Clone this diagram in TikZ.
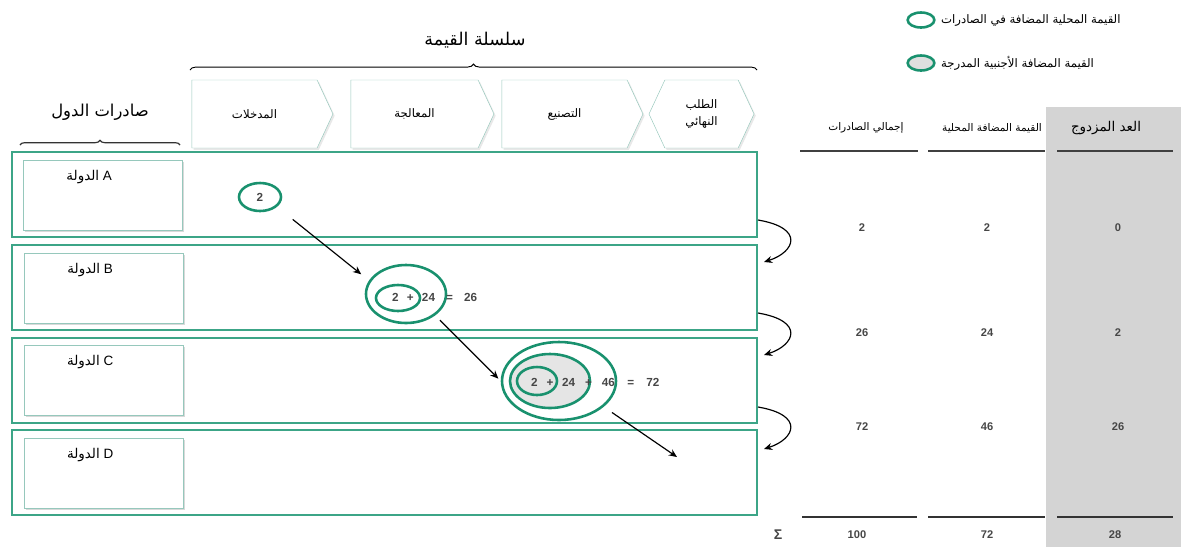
\documentclass[tikz,border=0pt]{standalone}
\usepackage{fontspec}
\setmainfont{Liberation Sans}
\newfontfamily\arabicfont[Script=Arabic]{DejaVu Sans}
\TeXXeTstate=1
\usepackage{tikz}
\usetikzlibrary{shapes.symbols,shapes.geometric,shadows,arrows.meta,decorations.pathreplacing,positioning}
\definecolor{vateal}{RGB}{25,145,110}
\definecolor{bandteal}{RGB}{60,165,135}
\definecolor{stageedge}{RGB}{150,200,188}
\definecolor{colgray}{RGB}{212,212,212}
\definecolor{numgray}{RGB}{70,70,70}
\newcommand{\arab}[1]{{\arabicfont\beginR #1\endR}}
\tikzset{
  stage/.style={signal, signal to=east, signal pointer angle=130, draw=stageedge, fill=white,
    minimum height=2.04cm, inner sep=0pt, font=\fontsize{10}{11}\selectfont,
    drop shadow={shadow xshift=1.5pt, shadow yshift=-1.5pt, opacity=.18}},
  band/.style={draw=bandteal, line width=1.3pt, minimum width=22.35cm, minimum height=2.55cm, inner sep=0pt},
  cbox/.style={draw=stageedge, fill=white, minimum width=4.77cm, minimum height=2.1cm,
    drop shadow={shadow xshift=2pt, shadow yshift=-2pt, opacity=.3}},
  cname/.style={font=\fontsize{11.5}{12}\selectfont, inner sep=0pt},
  vring/.style={ellipse, draw=vateal, line width=2.2pt, inner sep=0pt},
  vsum/.style={font=\fontsize{10}{11}\selectfont\bfseries, text=numgray, inner sep=0pt},
  num/.style={font=\fontsize{9.5}{11}\selectfont\bfseries, text=numgray},
  colhead/.style={font=\fontsize{9}{10}\selectfont},
  flow/.style={-{Stealth[length=7pt,width=6pt]}, line width=1pt},
  rule/.style={line width=1.4pt, draw=black!75},
}
\begin{document}
\begin{tikzpicture}[x=0.03cm,y=-0.03cm]
\useasboundingbox (0,0) rectangle (1181,547);

% table column shading
\fill[colgray] (1046,107) rectangle (1181,547);

% legend
\node[vring, minimum width=0.8cm, minimum height=0.45cm] (keyDom) at (921,20) {};
\node[anchor=west, font=\fontsize{10}{11}\selectfont] (keyDomText) at (937,20) {\arab{القيمة المحلية المضافة في الصادرات}};
\node[vring, fill=gray!25, minimum width=0.8cm, minimum height=0.45cm] (keyFor) at (921,63) {};
\node[anchor=west, font=\fontsize{10}{11}\selectfont] (keyForText) at (937,63) {\arab{القيمة المضافة الأجنبية المدرجة}};

% value chain header
\node[font=\fontsize{15}{16}\selectfont] (chain) at (475,40) {\arab{سلسلة القيمة}};
\draw[thick, decorate, decoration={brace, amplitude=5pt}] (190,70) -- (757,70);

\node[stage, minimum width=4.23cm] (inputs) at (254.5,114) {\arab{المدخلات}};
\node[stage, minimum width=4.29cm] (process) at (414.5,114) {\arab{المعالجة}};
\node[stage, minimum width=4.23cm] (manuf) at (564.5,114) {\arab{التصنيع}};
\node[stage, signal to=east and west, minimum width=3.15cm, align=center] (final) at (701.5,114) {\arab{الطلب}\\[3pt]\arab{النهائي}};

% country exports header
\node[font=\fontsize{14}{15}\selectfont] (exports) at (100,112) {\arab{صادرات الدول}};
\draw[line width=1pt, black!80, decorate, decoration={brace, amplitude=4pt}] (20,145) -- (180,145);

% country bands
\node[band] (bandA) at (384.5,194.5) {};
\node[band] (bandB) at (384.5,287.5) {};
\node[band] (bandC) at (384.5,380.5) {};
\node[band] (bandD) at (384.5,472.5) {};

\node[cbox] (boxA) at (102.5,195) {};
\node[cbox] (boxB) at (103.5,288) {};
\node[cbox] (boxC) at (103.5,380) {};
\node[cbox] (boxD) at (103.5,473) {};
\node[cname, below=9pt of boxA.north, xshift=-0.4cm] (nameA) {\arab{الدولة}~A};
\node[cname, below=9pt of boxB.north, xshift=-0.4cm] (nameB) {\arab{الدولة}~B};
\node[cname, below=9pt of boxC.north, xshift=-0.4cm] (nameC) {\arab{الدولة}~C};
\node[cname, below=9pt of boxD.north, xshift=-0.4cm] (nameD) {\arab{الدولة}~D};

% value added rings
\node[vring, minimum width=1.26cm, minimum height=0.84cm, vsum] (vaA) at (260,197) {2};

\node[vring, minimum width=2.4cm, minimum height=1.74cm] (vaBo) at (406,294) {};
\node[vring, minimum width=1.32cm, minimum height=0.78cm] (vaBi) at (398,298) {};
\node[vsum, anchor=west] (sumB) at (392,297) {2\hspace{7pt}+\hspace{7pt}24\hspace{9.5pt}=\hspace{9.5pt}26};

\node[vring, minimum width=3.42cm, minimum height=2.34cm] (vaCo) at (559,381) {};
\node[vring, fill=gray!20, minimum width=2.4cm, minimum height=1.62cm] (vaCm) at (550,381) {};
\node[vring, minimum width=1.2cm, minimum height=0.84cm] (vaCi) at (537,381) {};
\node[vsum, anchor=west] (sumC) at (531,382) {2\hspace{7.5pt}+\hspace{7.5pt}24\hspace{8.5pt}+\hspace{8.5pt}46\hspace{10.5pt}=\hspace{10.5pt}72};

\coordinate (tipD) at (677,457);
\draw[flow, shorten <=0.6cm, shorten >=0.3cm] (vaA.-30) -- (vaBo.160);
\draw[flow, shorten <=0.2cm, shorten >=0.1cm] (vaBo.south east) -- (vaCo.west);
\draw[flow, shorten <=0.3cm] (vaCo.-30) -- (tipD);

% hand over to next country
\coordinate (outA) at (758,220); \coordinate (inB) at (764,262);
\coordinate (outB) at (758,313); \coordinate (inC) at (764,355);
\coordinate (outC) at (758,407); \coordinate (inD) at (764,449);
\draw[flow] (outA) .. controls (805,228) and (795,252) .. (inB);
\draw[flow] (outB) .. controls (805,321) and (795,345) .. (inC);
\draw[flow] (outC) .. controls (805,415) and (795,439) .. (inD);

% table
\node[colhead] (hTotal) at (866,128) {\arab{إجمالي الصادرات}};
\node[colhead] (hDom) at (992,128) {\arab{القيمة المضافة المحلية}};
\node[font=\fontsize{11.5}{12}\selectfont] (hDouble) at (1106,128) {\arab{العد المزدوج}};
\draw[rule] (800,151) -- (918,151);
\draw[rule] (928,151) -- (1045,151);
\draw[rule] (1057,151) -- (1173,151);

\node[num] (tA) at (862,228) {2};
\node[num] (dA) at (987,228) {2};
\node[num] (xA) at (1118,228) {0};
\node[num] (tB) at (862,333) {26};
\node[num] (dB) at (987,333) {24};
\node[num] (xB) at (1118,333) {2};
\node[num] (tC) at (862,427) {72};
\node[num] (dC) at (987,427) {46};
\node[num] (xC) at (1118,427) {26};

\draw[line width=2.2pt, draw=black!80] (802,517) -- (917,517);
\draw[line width=2.2pt, draw=black!80] (928,517) -- (1045,517);
\draw[line width=2.2pt, draw=black!80] (1057,517) -- (1173,517);
\node[num, font=\fontsize{12}{12}\selectfont\bfseries] (sigma) at (778,535) {Σ};
\node[num] (sTotal) at (857,535) {100};
\node[num] (sDom) at (987,535) {72};
\node[num] (sDouble) at (1115,535) {28};
\end{tikzpicture}
\end{document}
